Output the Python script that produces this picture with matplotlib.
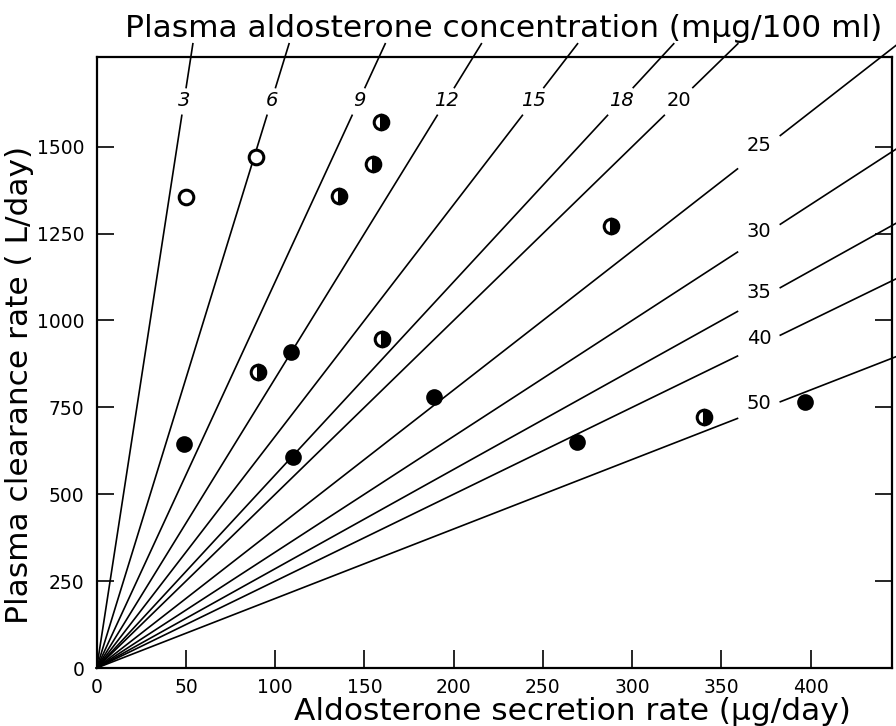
import matplotlib
matplotlib.use('Agg')
import matplotlib.pyplot as plt

# concentrations (mµg/100 ml) of the iso-concentration lines
conc = [3, 6, 9, 12, 15, 18, 20, 25, 30, 35, 40, 50]

# data points: (secretion rate µg/day, clearance rate L/day)
open_x = [50, 89]
open_y = [1355, 1470]
half_x = [159, 155, 136, 160, 90.5, 288, 340]
half_y = [1572, 1450, 1358, 946, 853, 1272, 723]
fill_x = [49, 110, 109, 189, 269, 397]
fill_y = [644, 606, 910, 781, 651, 766]

xticks = [0, 50, 100, 150, 200, 250, 300, 350, 400]
yticks = [0, 250, 500, 750, 1000, 1250, 1500]

W, H = 896, 726
fig = plt.figure(figsize=(W / 100, H / 100), dpi=100)
x0, x1, yb, yt = 96.7, 891.7, 668.0, 57.3
ax = fig.add_axes([x0 / W, (H - yb) / H, (x1 - x0) / W, (yb - yt) / H])
ax.set_xlim(0, 445.4)
ax.set_ylim(0, 1757)

lw = 1.2
for c in conc:
    s = 100.0 / c  # clearance per unit secretion
    if c <= 20:
        ylo, yhi_lo, yup0, yup1 = 0, 1590, 1670, 1796
        ax.plot([ylo / s, yhi_lo / s], [ylo, yhi_lo], color='black', lw=lw, clip_on=False)
        ax.plot([yup0 / s, yup1 / s], [yup0, yup1], color='black', lw=lw, clip_on=False)
        ax.text(1632 / s, 1632, str(c), ha='center', va='center', fontsize=14,
                style='italic' if c < 20 else 'normal')
    else:
        xa, xb, xc = 359, 383, min(452, 1796 / s)
        ax.plot([0, xa], [0, xa * s], color='black', lw=lw, clip_on=False)
        ax.plot([xb, xc], [xb * s, xc * s], color='black', lw=lw, clip_on=False)
        ax.annotate(str(c), (371, 371 * s), xytext=(0, 5), textcoords='offset points',
                    ha='center', va='center', fontsize=14)

ms = 10.5
ax.plot(open_x, open_y, 'o', ms=ms, mfc='white', mec='black', mew=2.2, zorder=5)
ax.plot(half_x, half_y, 'o', ms=ms, fillstyle='right', mfc='black', mfcalt='white',
        mec='black', mew=2.2, zorder=5)
ax.plot(fill_x, fill_y, 'o', ms=ms, mfc='black', mec='black', mew=1.5, zorder=5)

for sp in ax.spines.values():
    sp.set_linewidth(1.6)

ax.set_xticks(xticks)
ax.set_xticklabels([str(v) for v in xticks])
ax.set_yticks(yticks)
ax.set_yticklabels([str(v) for v in yticks])
ax.tick_params(axis='x', direction='in', length=13, width=1.2, labelsize=13.5, pad=7)
ax.tick_params(axis='y', direction='in', length=12, width=1.2, labelsize=13.5, pad=9,
               right=True, labelright=False)

fig.text(504 / W, 1 - 37 / H, 'Plasma aldosterone concentration (mµg/100 ml)',
         ha='center', va='baseline', fontsize=22.5)
fig.text(572 / W, 1 - 720 / H, 'Aldosterone secretion rate (µg/day)',
         ha='center', va='baseline', fontsize=22.5)
fig.text(20 / W, 1 - 385 / H, 'Plasma clearance rate ( L/day)', rotation=90,
         ha='center', va='center', fontsize=22.5)

fig.savefig('out.png', dpi=100)
